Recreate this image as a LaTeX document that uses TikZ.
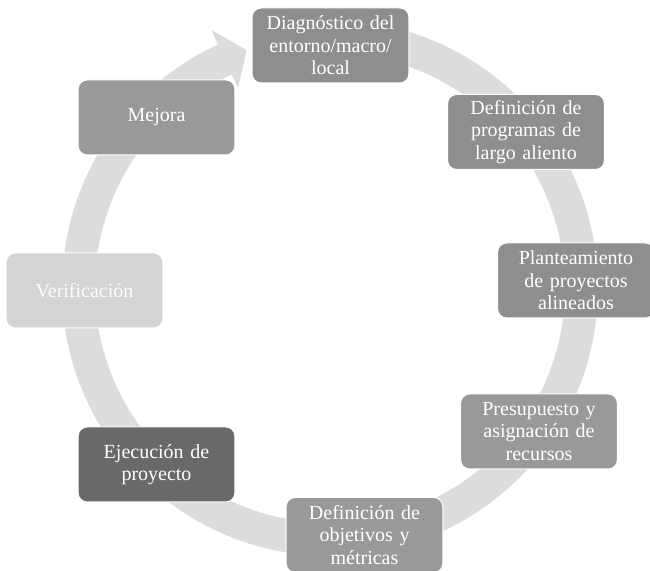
\documentclass[tikz,border=0pt]{standalone}
\usepackage{fontspec}
\setmainfont{Liberation Serif}
\usepackage{xcolor}
\usetikzlibrary{shapes.geometric, arrows, positioning, calc}

\definecolor{ringgray}{HTML}{DCDCDC}
\definecolor{midgray}{HTML}{8E8E8E}
\definecolor{softgray}{HTML}{999999}
\definecolor{darkgray}{HTML}{696969}
\definecolor{palegray}{HTML}{D4D4D4}

\begin{document}
\begin{tikzpicture}[
    x=1pt, y=1pt,
    stage/.style={rectangle, draw=white, line width=1pt, fill=midgray, text=white, minimum width=153pt, minimum height=75pt, text width=150pt, align=center, rounded corners=9pt, font=\fontsize{20}{22.5}\selectfont},
    ring/.style={fill=ringgray}
]
\useasboundingbox (0,0) rectangle (650,570);
\coordinate (c) at (330,282);

\fill [ring] ($(c)+(85:268pt)$) arc[start angle=85, end angle=-245.3, radius=268pt]
    -- ($(c)+(114.7:284pt)$) -- ($(c)+(109.3:252pt)$) -- ($(c)+(114.7:220pt)$)
    -- ($(c)+(114.7:235pt)$) arc[start angle=114.7, end angle=445, radius=235pt] -- cycle;

\node (n1) [stage] at (330.5,524.5) {Diagnóstico del\\entorno/macro/\\local};
\node (n2) [stage] at (526,438) {Definición de\\programas de\\largo aliento};
\node (n3) [stage] at (576,289.5) {Planteamiento\\de proyectos\\alineados};
\node (n4) [stage, fill=softgray] at (539,138.5) {Presupuesto y\\asignación de\\recursos};
\node (n5) [stage, fill=softgray] at (364.5,35) {Definición de\\objetivos y\\métricas};
\node (n6) [stage, fill=darkgray] at (156.5,105.5) {Ejecución de\\proyecto};
\node (n7) [stage, fill=palegray, text=white!94!palegray] at (84.5,279.5) {Verificación};
\node (n8) [stage, fill=softgray] at (156.5,452.5) {Mejora};

\end{tikzpicture}
\end{document}
